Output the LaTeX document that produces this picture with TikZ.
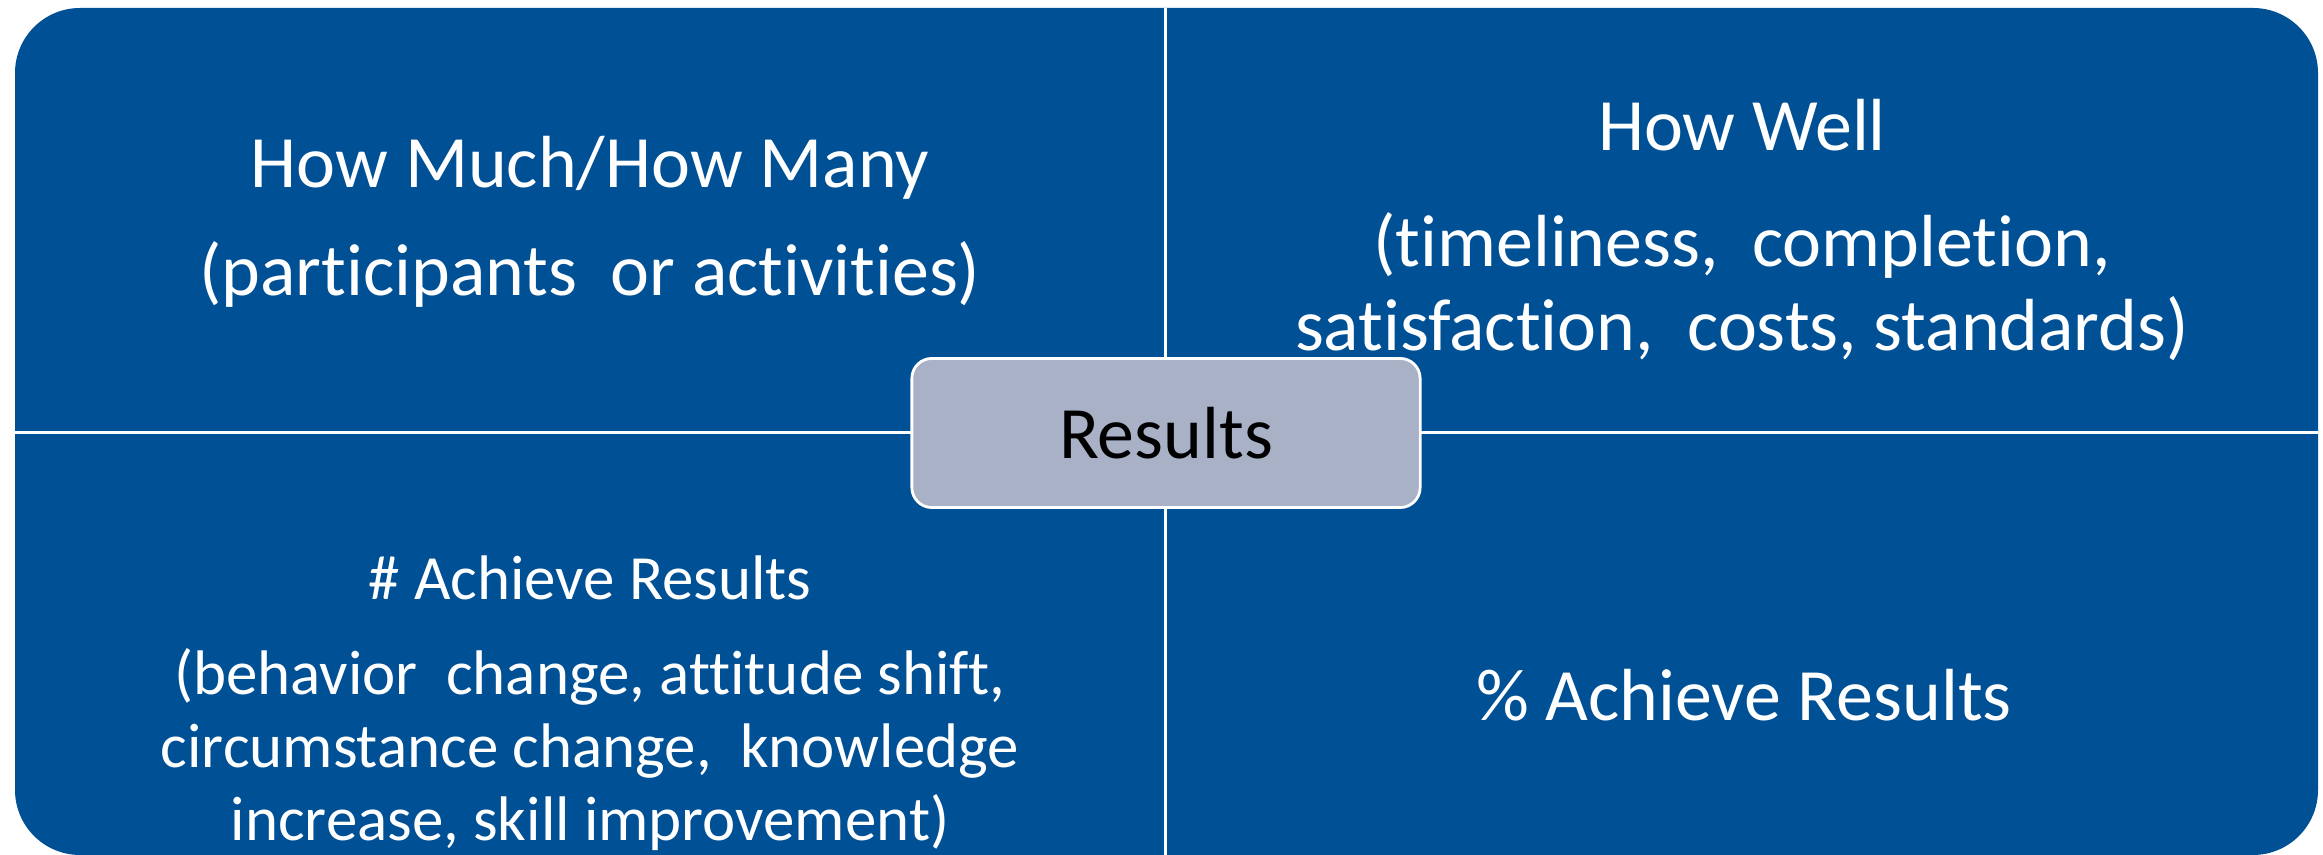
\documentclass[tikz,border=0pt]{standalone}
\usepackage{fontspec}
\setmainfont{Carlito}[Ligatures=NoCommon]
\definecolor{quadblue}{RGB}{0,80,150}
\definecolor{hubgray}{RGB}{169,177,198}
\begin{document}
\begin{tikzpicture}[x=0.01cm,y=0.01cm,
    quad/.style={text=white,align=center,anchor=base,font=\fontsize{21}{24}\selectfont},
    quadsmall/.style={quad,font=\fontsize{17.9}{20.8}\selectfont},
    divider/.style={white,line width=0.85pt},
    hub/.style={draw=white,line width=0.8pt,fill=hubgray,rounded corners=0.2cm,
      minimum width=5.08cm,minimum height=1.49cm,inner sep=0pt,font=\fontsize{21}{24}\selectfont}]
  \useasboundingbox (0,0) rectangle (2323,855);
  % blue panel
  \fill[quadblue,rounded corners=0.65cm] (15,0) rectangle (2318,847);
  \coordinate (top) at (1165,847);
  \coordinate (bottom) at (1165,0);
  \coordinate (left) at (15,422);
  \coordinate (right) at (2318,422);
  \draw[divider] (top) -- (bottom);
  \draw[divider] (left) -- (right);

  % upper left
  \node[quad] (much) at (590,667) {How Much/How Many};
  \node[quad] (muchsub) at (590,559) {(participants~ or activities)};
  % upper right (base = last line)
  \node[quad] (well) at (1742,704) {How Well};
  \node[quad] (wellsub) at (1742,504) {(timeliness,~ completion,\\satisfaction,~ costs, standards)};
  % lower left
  \node[quadsmall] (num) at (590,255) {\# Achieve Results};
  \node[quadsmall] (numsub) at (590,14) {(behavior~ change, attitude shift,\\circumstance change,~ knowledge\\increase, skill improvement)};
  % lower right
  \node[quad] (pct) at (1744,134) {\% Achieve Results};

  % centre
  \node[hub] (results) at (1166,422) {Results};
\end{tikzpicture}
\end{document}
